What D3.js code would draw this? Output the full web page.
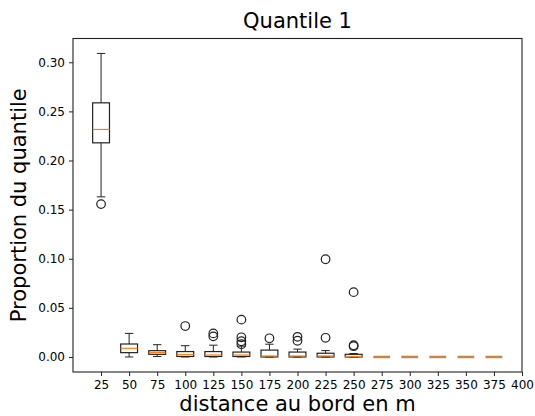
<!DOCTYPE html>
<html><head><meta charset="utf-8">
<script src="https://cdn.jsdelivr.net/npm/d3@7"></script>
<style>body{margin:0;background:#fff}text{font-family:"DejaVu Sans",sans-serif;fill:#000}</style>
</head><body>
<svg id="c" width="535" height="416"></svg>
<script>
const positions = [25,50,75,100,125,150,175,200,225,250,275,300,325,350,375];
const whiskerLow  = [0.163,0.0,0.0005,0,0,0,0,0,0,0,0,0,0,0,0];
const q1          = [0.218,0.0044,0.0027,0.0005,0.0005,0.0005,0,0,0,0,0,0,0,0,0];
const medians     = [0.2316,0.0088,0.0045,0.0025,0.002,0.002,0.001,0.001,0.001,0.0005,0,0,0,0,0];
const q3          = [0.2587,0.0132,0.0064,0.0055,0.0055,0.005,0.007,0.005,0.0038,0.0027,0,0,0,0,0];
const whiskerHigh = [0.309,0.024,0.0125,0.0115,0.012,0.011,0.013,0.008,0.0065,0.0035,0,0,0,0,0];
const outliers    = [[0.1556],[],[],[0.0315],[0.024,0.021],[0.038,0.020,0.016,0.013],[0.019],[0.0205,0.0165],[0.0995,0.0195],[0.066,0.012,0.011],[],[],[],[],[]];
const xTicks = [25,50,75,100,125,150,175,200,225,250,275,300,325,350,375,400];
const yTicks = [0,0.05,0.10,0.15,0.20,0.25,0.30];

const svg = d3.select("#c");
const L=73, R=522, T=38.5, B=372;
const x = d3.scaleLinear().domain([0,400]).range([L,R]);
const y = d3.scaleLinear().domain([-0.0153,0.3242]).range([B,T]);
const step = x(50)-x(25);
const bw = step*0.6, cw = bw/2;

// axes
const xa = svg.append("g").attr("transform",`translate(0,${B})`)
  .call(d3.axisBottom(x).tickValues(xTicks).tickSize(4).tickSizeOuter(0).tickPadding(4).tickFormat(d3.format("d")));
const ya = svg.append("g").attr("transform",`translate(${L},0)`)
  .call(d3.axisLeft(y).tickValues(yTicks).tickSize(4).tickSizeOuter(0).tickPadding(4).tickFormat(d3.format(".2f")));
[xa,ya].forEach(a=>{a.select(".domain").remove();a.selectAll("text").style("font-size","12px").style("font-family","DejaVu Sans").attr("fill","#222");a.selectAll("line").attr("stroke","#222");});
svg.append("rect").attr("x",L).attr("y",T).attr("width",R-L).attr("height",B-T)
  .attr("fill","none").attr("stroke","#222").attr("stroke-width",1.1);

const data = positions.map((p,i)=>({p,lo:whiskerLow[i],q1:q1[i],med:medians[i],q3:q3[i],hi:whiskerHigh[i],out:outliers[i]}));
const g = svg.append("g");
data.forEach(d=>{
  const cx = x(d.p);
  const gg = g.append("g");
  gg.append("line").attr("x1",cx).attr("x2",cx).attr("y1",y(d.q3)).attr("y2",y(d.hi)).attr("stroke","#222");
  gg.append("line").attr("x1",cx).attr("x2",cx).attr("y1",y(d.q1)).attr("y2",y(d.lo)).attr("stroke","#222");
  gg.append("line").attr("x1",cx-cw/2).attr("x2",cx+cw/2).attr("y1",y(d.hi)).attr("y2",y(d.hi)).attr("stroke","#222");
  gg.append("line").attr("x1",cx-cw/2).attr("x2",cx+cw/2).attr("y1",y(d.lo)).attr("y2",y(d.lo)).attr("stroke","#222");
  gg.append("rect").attr("x",cx-bw/2).attr("width",bw).attr("y",y(d.q3)).attr("height",Math.max(0,y(d.q1)-y(d.q3)))
    .attr("fill","none").attr("stroke","#222").attr("stroke-width",1.2);
  gg.append("line").attr("x1",cx-bw/2).attr("x2",cx+bw/2).attr("y1",y(d.med)).attr("y2",y(d.med))
    .attr("stroke", d.q3===d.q1 ? "#c98545" : "#ff7f0e").attr("stroke-width", d.q3===d.q1 ? 2.5 : 1.2);
  d.out.forEach(o=>gg.append("circle").attr("cx",cx).attr("cy",y(o)).attr("r",4.3)
    .attr("fill","none").attr("stroke","#222").attr("stroke-width",1.2));
});

// labels
const cxA = (L+R)/2;
svg.append("text").attr("x",cxA).attr("y",28).attr("text-anchor","middle")
  .style("font-size","21px").text("Quantile 1");
svg.append("text").attr("x",cxA).attr("y",411).attr("text-anchor","middle")
  .style("font-size","21px").text("distance au bord en m");
svg.append("text").attr("transform",`translate(26,${(T+B)/2}) rotate(-90)`).attr("text-anchor","middle")
  .style("font-size","21px").text("Proportion du quantile");
</script>
</body></html>
